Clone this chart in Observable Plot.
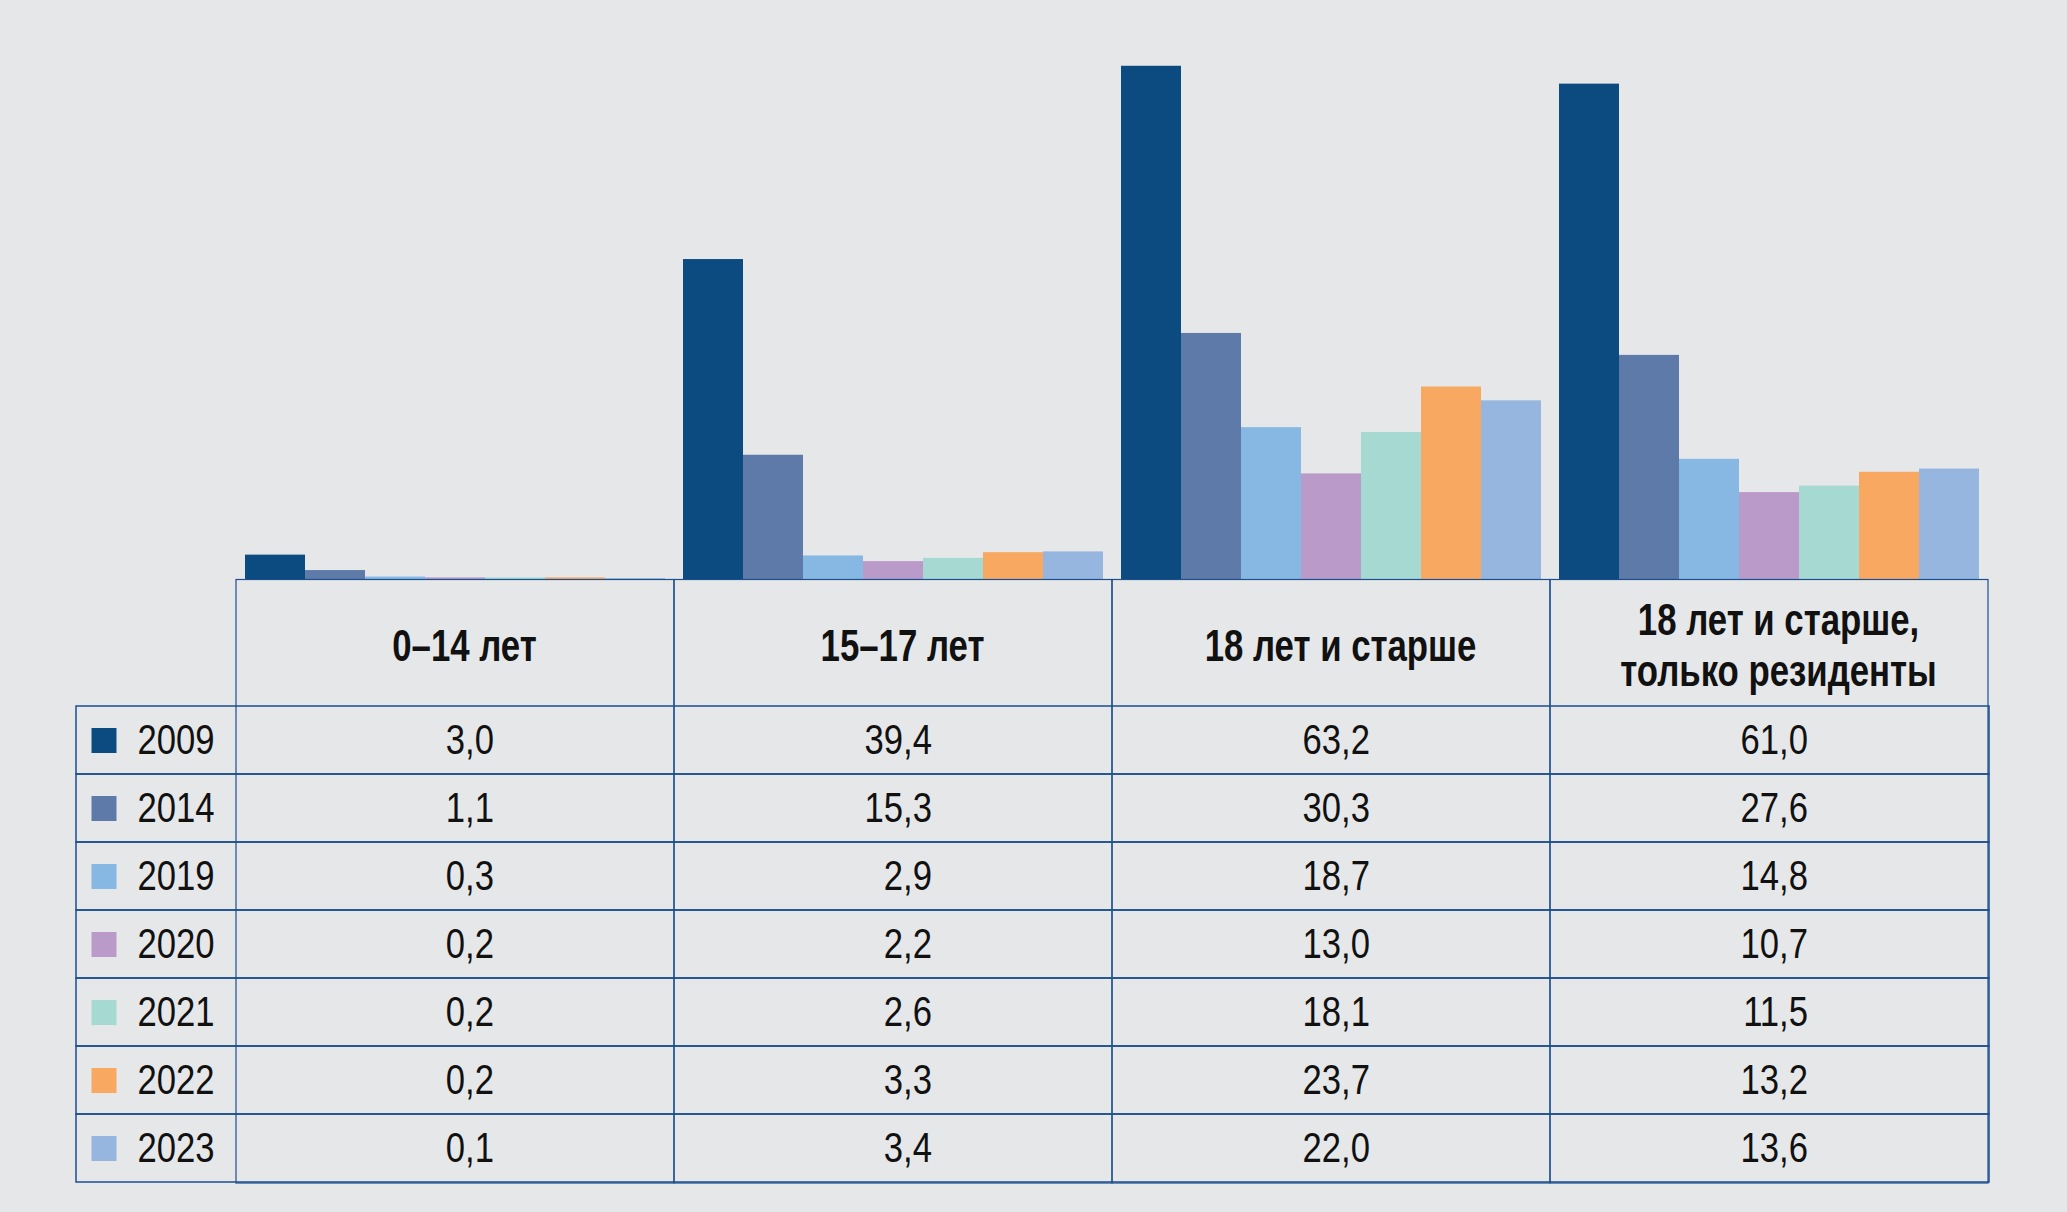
<!DOCTYPE html>
<html lang="ru">
<head>
<meta charset="utf-8">
<script src="https://cdn.jsdelivr.net/npm/d3@7"></script>
<script src="https://cdn.jsdelivr.net/npm/@observablehq/plot@0.6"></script>
<style>
  html, body { margin: 0; padding: 0; background: #e6e7e9; }
  #chart { width: 2067px; height: 1212px; }
  #chart svg { display: block; overflow: visible; }
</style>
</head>
<body>
<div id="chart"></div>
<script>
// ---- data ----
const categories = ["0–14 лет", "15–17 лет", "18 лет и старше", "18 лет и старше, только резиденты"];
const headerLabels = ["0–14 лет", "15–17 лет", "18 лет и старше", "18 лет и старше,\nтолько резиденты"];
const years = ["2009", "2014", "2019", "2020", "2021", "2022", "2023"];
const v2009 = [3.0, 39.4, 63.2, 61.0];
const v2014 = [1.1, 15.3, 30.3, 27.6];
const v2019 = [0.3, 2.9, 18.7, 14.8];
const v2020 = [0.2, 2.2, 13.0, 10.7];
const v2021 = [0.2, 2.6, 18.1, 11.5];
const v2022 = [0.2, 3.3, 23.7, 13.2];
const v2023 = [0.1, 3.4, 22.0, 13.6];
const yearColors = ["#0b4b80", "#5e7aa9", "#87b8e3", "#b99ac9", "#a6d9d2", "#f9a862", "#96b5df"];

// ---- table built from the arrays ----
const series = [v2009, v2014, v2019, v2020, v2021, v2022, v2023];
const data = [];
years.forEach((yr, i) => categories.forEach((c, j) => data.push({year: yr, category: c, value: series[i][j]})));
const fmt = v => v.toFixed(1).replace(".", ",");

const lineColor = "#1b4f8e";
const font = "'Liberation Sans', Arial, Helvetica, sans-serif";
const W = 2067;

// ---- bars ----
const bars = Plot.plot({
  width: W,
  height: 579,
  marginLeft: 235,
  marginRight: 78,
  marginTop: 0,
  marginBottom: 0,
  style: {background: "transparent", fontFamily: font},
  facet: {data: data, x: "category"},
  fx: {domain: categories, padding: 0, axis: null},
  x: {domain: years, paddingInner: 0, paddingOuter: 0.12, axis: null},
  y: {domain: [0, 71.3], axis: null},
  color: {domain: years, range: yearColors},
  marks: [
    Plot.barY(data, {x: "year", y: "value", fill: "year"})
  ]
});

// ---- data table ----
const table = Plot.plot({
  width: W,
  height: 633,
  marginLeft: 235,
  marginRight: 78,
  marginTop: 126,
  marginBottom: 29,
  style: {background: "transparent", fontFamily: font, color: "#111"},
  x: {domain: categories, padding: 0, axis: null},
  y: {domain: years, padding: 0, axis: null},
  color: {domain: years, range: yearColors},
  marks: [
    // row boxes (including legend column)
    Plot.cell(years, {y: d => d, fill: "none", stroke: lineColor, strokeWidth: 1.5, insetLeft: -159}),
    // column boxes (including header row)
    Plot.cell(categories, {x: d => d, fill: "none", stroke: lineColor, strokeWidth: 1.2, insetTop: -125.5}),
    // header labels
    Plot.text(categories, {
      x: d => d, text: (d, i) => headerLabels[i], frameAnchor: "top", lineAnchor: "middle",
      dy: -61, dx: 9, fontSize: 44, fontWeight: "bold", lineHeight: 1.14, fill: "#111"
    }),
    // values
    Plot.text(data, {
      x: "category", y: "year", text: d => fmt(d.value), textAnchor: "end", dx: 38.5,
      fontSize: 42, fill: "#111"
    }),
    // legend swatches
    Plot.dot(years, {y: d => d, fill: d => d, symbol: "square", r: 14.1, frameAnchor: "left", dx: -131.5}),
    // legend years
    Plot.text(years, {y: d => d, text: d => d, frameAnchor: "left", textAnchor: "start", dx: -98, fontSize: 42, fill: "#111"})
  ]
});

// condensed type (the reference uses a narrow face): squeeze each text horizontally about its anchor
function condense(svg) {
  svg.querySelectorAll("text").forEach(t => {
    const bold = t.closest("[font-weight]");
    const s = bold ? 0.79 : 0.825;
    const tr = t.getAttribute("transform");
    if (tr) {
      t.setAttribute("transform", tr + ` scale(${s},1)`);
    } else {
      const x = +t.getAttribute("x") || 0, y = +t.getAttribute("y") || 0;
      t.removeAttribute("x"); t.removeAttribute("y");
      t.setAttribute("transform", `translate(${x},${y}) scale(${s},1)`);
    }
  });
}
condense(table);

document.getElementById("chart").append(bars, table);
</script>
</body>
</html>
